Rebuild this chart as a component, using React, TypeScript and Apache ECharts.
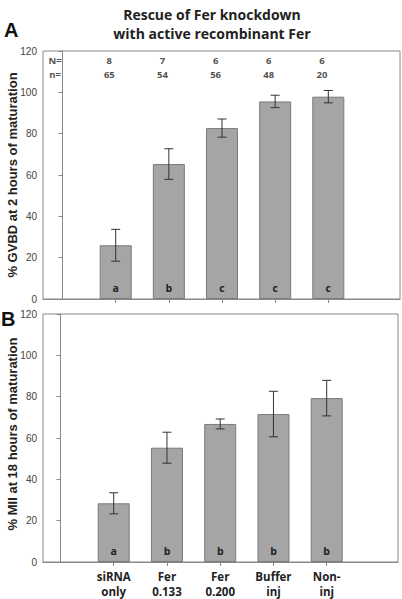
import React, { useEffect, useRef } from "react";
import * as echarts from "echarts";

const categories = ["siRNA\nonly", "Fer\n0.133", "Fer\n0.200", "Buffer\ninj", "Non-\ninj"];
const gvbdValues = [26.0, 65.3, 82.7, 95.6, 97.9];
const gvbdErrors = [7.7, 7.4, 4.4, 3.0, 3.0];
const gvbdLetters = ["a", "b", "c", "c", "c"];
const miiValues = [28.4, 55.3, 66.8, 71.6, 79.3];
const miiErrors = [5.1, 7.5, 2.4, 11.0, 8.6];
const miiLetters = ["a", "b", "b", "b", "b"];
const bigN = ["8", "7", "6", "6", "6"];
const smallN = ["65", "54", "56", "48", "20"];
const yMin = 0;
const yMax = 120;
const yInterval = 20;

const FONT_BOLD = "'Open Sans', 'Noto Sans', sans-serif";
const FONT_TICK = "'Liberation Sans', Arial, sans-serif";

export default function App() {
  const ref = useRef<HTMLDivElement>(null);
  useEffect(() => {
    if (!ref.current) return;
    const chart = echarts.init(ref.current, undefined, { renderer: "svg" });
    const xs = categories.map((_, i) => i + 1);

    const errRender = (params: any, api: any) => {
      const x = api.value(0);
      const lo = api.value(1);
      const hi = api.value(2);
      const p1 = api.coord([x, hi]);
      const p2 = api.coord([x, lo]);
      const half = 4.5;
      const style = { stroke: "#333", lineWidth: 1 };
      return {
        type: "group",
        children: [
          { type: "line", shape: { x1: p1[0], y1: p1[1], x2: p2[0], y2: p2[1] }, style },
          { type: "line", shape: { x1: p1[0] - half, y1: p1[1], x2: p1[0] + half, y2: p1[1] }, style },
          { type: "line", shape: { x1: p2[0] - half, y1: p2[1], x2: p2[0] + half, y2: p2[1] }, style },
        ],
      };
    };

    const makeX = (gridIndex: number, min: number, max: number, showLabels: boolean) => ({
      type: "value",
      gridIndex,
      min,
      max,
      axisLine: { show: true, lineStyle: { color: "#888", width: 1 } },
      axisTick: { show: true, customValues: xs, length: 4, lineStyle: { color: "#888" } },
      axisLabel: {
        show: showLabels,
        customValues: xs,
        formatter: (v: number) => categories[Math.round(v) - 1] || "",
        fontFamily: FONT_BOLD,
        fontWeight: "bold",
        fontSize: 11.5,
        color: "#222",
        lineHeight: 15,
        margin: 7,
      },
      splitLine: { show: false },
    });

    const makeY = (gridIndex: number) => ({
      type: "value",
      gridIndex,
      min: yMin,
      max: yMax,
      interval: yInterval,
      axisLine: { show: true, lineStyle: { color: "#888", width: 1 } },
      axisTick: { show: true, length: 4, lineStyle: { color: "#888" } },
      axisLabel: { fontFamily: FONT_TICK, fontSize: 10, color: "#444", margin: 6 },
      splitLine: { show: false },
    });

    const yTitle = (text: string, cy: number) => ({
      type: "text",
      x: 12,
      y: cy,
      rotation: Math.PI / 2,
      style: {
        text,
        fontFamily: FONT_TICK,
        fontWeight: "bold",
        fontSize: 13,
        fill: "#222",
        align: "center",
        verticalAlign: "middle",
      },
    });

    const barSeries = (idx: number, values: number[], letters: string[]) => ({
      type: "bar",
      xAxisIndex: idx,
      yAxisIndex: idx,
      barWidth: 32,
      data: values.map((v, i) => [xs[i], v]),
      itemStyle: { color: "#a5a5a5", borderColor: "#7a7a7a", borderWidth: 1 },
      label: {
        show: true,
        position: "insideBottom",
        distance: 6,
        formatter: (p: any) => letters[p.dataIndex],
        fontFamily: FONT_BOLD,
        fontWeight: "bold",
        fontSize: 10.5,
        color: "#222",
      },
    });

    const errSeries = (idx: number, values: number[], errs: number[]) => ({
      type: "custom",
      xAxisIndex: idx,
      yAxisIndex: idx,
      z: 5,
      renderItem: errRender,
      data: values.map((v, i) => [xs[i], v - errs[i], v + errs[i]]),
    });

    const countLabelSeries = (rowY: number, head: string, values: string[]) => ({
      type: "scatter",
      xAxisIndex: 0,
      yAxisIndex: 0,
      symbolSize: 0,
      silent: true,
      data: [
        { value: [-0.14, rowY], name: head },
        ...values.map((v, i) => ({ value: [xs[i] - 0.12, rowY], name: v })),
      ],
      label: {
        show: true,
        position: "inside",
        formatter: (p: any) => p.name,
        fontFamily: FONT_BOLD,
        fontWeight: "bold",
        fontSize: 9.5,
        lineHeight: 10,
        color: "#222",
      },
    });

    chart.setOption({
      animation: false,
      backgroundColor: "#fff",
      title: {
        text: "Rescue of Fer knockdown\nwith active recombinant Fer",
        left: 207,
        textAlign: "center",
        top: 0,
        textStyle: { fontFamily: FONT_BOLD, fontWeight: "bold", fontSize: 14, color: "#222", lineHeight: 19 },
      },
      graphic: [
        { type: "text", left: 4, top: 20, style: { text: "A", fontFamily: FONT_TICK, fontWeight: "bold", fontSize: 20, fill: "#111" } },
        { type: "text", left: 1, top: 309, style: { text: "B", fontFamily: FONT_TICK, fontWeight: "bold", fontSize: 20, fill: "#111" } },
        yTitle("% GVBD at 2 hours of maturation", 175),
        yTitle("% MII at 18 hours of maturation", 434),
      ],
      grid: [
        { left: 43, right: 2, top: 51, height: 248, show: true, borderColor: "#888", borderWidth: 1, containLabel: false, outerBoundsMode: "none" },
        { left: 43, right: 4, top: 314, height: 248, show: true, borderColor: "#888", borderWidth: 1, containLabel: false, outerBoundsMode: "none" },
      ],
      xAxis: [makeX(0, -0.368, 6.349, false), makeX(1, -0.328, 6.339, true)],
      yAxis: [makeY(0), makeY(1)],
      series: [
        barSeries(0, gvbdValues, gvbdLetters),
        errSeries(0, gvbdValues, gvbdErrors),
        barSeries(1, miiValues, miiLetters),
        errSeries(1, miiValues, miiErrors),
        countLabelSeries(115.2, "N=", bigN),
        countLabelSeries(108.4, "n=", smallN),
      ],
    });
    return () => chart.dispose();
  }, []);
  return <div ref={ref} style={{ width: 402, height: 599, position: "absolute", left: 0, top: 0 }} />;
}
